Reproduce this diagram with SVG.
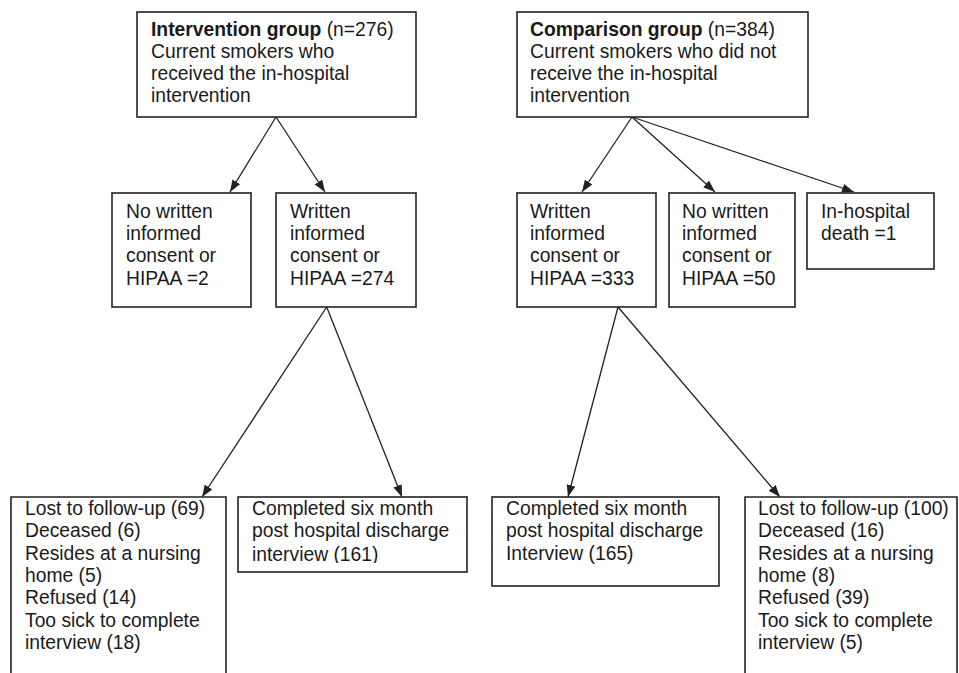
<svg xmlns="http://www.w3.org/2000/svg" width="959" height="673" viewBox="0 0 959 673">
<style>
.box{fill:#fff;stroke:#222;stroke-width:1.6}
.open{fill:none;stroke:#222;stroke-width:1.6}
text{font-family:"Liberation Sans",Arial,sans-serif;font-size:19.3px;fill:#1a1a1a}
.b{font-weight:bold}
.c{fill:none;stroke:#222;stroke-width:1.3;marker-end:url(#ah)}
</style>
<defs>
<marker id="ah" viewBox="0 0 12 9" refX="12" refY="4.5" markerWidth="12" markerHeight="9" markerUnits="userSpaceOnUse" orient="auto">
<path d="M0,0 L12,4.5 L0,9 Z" fill="#222"/>
</marker>
<clipPath id="clip161"><rect x="238" y="497" width="229" height="66"/></clipPath>
</defs>
<rect width="959" height="673" fill="#fff"/>
<g id="connectors">
<line class="c" x1="276" y1="117" x2="230" y2="192"/>
<line class="c" x1="276" y1="117" x2="325" y2="192"/>
<line class="c" x1="632" y1="117" x2="582" y2="192"/>
<line class="c" x1="632" y1="117" x2="715" y2="192"/>
<line class="c" x1="632" y1="117" x2="854" y2="192"/>
<line class="c" x1="326.7" y1="307" x2="202" y2="497"/>
<line class="c" x1="326.7" y1="307" x2="402" y2="497"/>
<line class="c" x1="618" y1="307" x2="568" y2="497"/>
<line class="c" x1="618" y1="307" x2="780" y2="497"/>
</g>
<g id="intervention">
<rect class="box" x="137" y="12" width="279" height="105"/>
<text x="151" y="36"><tspan class="b">Intervention group</tspan> (n=276)</text>
<text x="151" y="58">Current smokers who</text>
<text x="151" y="80">received the in-hospital</text>
<text x="151" y="102">intervention</text>
</g>
<g id="comparison">
<rect class="box" x="517" y="12" width="291" height="105"/>
<text x="530" y="36"><tspan class="b">Comparison group</tspan> (n=384)</text>
<text x="530" y="58">Current smokers who did not</text>
<text x="530" y="80">receive the in-hospital</text>
<text x="530" y="102">intervention</text>
</g>
<g id="int-no-consent">
<rect class="box" x="112" y="193" width="139" height="114"/>
<text x="126" y="218">No written</text>
<text x="126" y="240">informed</text>
<text x="126" y="262">consent or</text>
<text x="126" y="285">HIPAA =2</text>
</g>
<g id="int-consent">
<rect class="box" x="276" y="193" width="140" height="114"/>
<text x="290" y="218">Written</text>
<text x="290" y="240">informed</text>
<text x="290" y="262">consent or</text>
<text x="290" y="285">HIPAA =274</text>
</g>
<g id="comp-consent">
<rect class="box" x="517" y="193" width="139" height="114"/>
<text x="530" y="218">Written</text>
<text x="530" y="240">informed</text>
<text x="530" y="262">consent or</text>
<text x="530" y="285">HIPAA =333</text>
</g>
<g id="comp-no-consent">
<rect class="box" x="669" y="193" width="126" height="114"/>
<text x="682" y="218">No written</text>
<text x="682" y="240">informed</text>
<text x="682" y="262">consent or</text>
<text x="682" y="285">HIPAA =50</text>
</g>
<g id="comp-death">
<rect class="box" x="807" y="193" width="127" height="76"/>
<text x="821" y="218">In-hospital</text>
<text x="821" y="240">death =1</text>
</g>
<g id="int-lost">
<path class="open" d="M11,673 V497 H226 V673"/>
<text x="25" y="515">Lost to follow-up (69)</text>
<text x="25" y="537">Deceased (6)</text>
<text x="25" y="560">Resides at a nursing</text>
<text x="25" y="582">home (5)</text>
<text x="25" y="604">Refused (14)</text>
<text x="25" y="627">Too sick to complete</text>
<text x="25" y="649">interview (18)</text>
</g>
<g id="int-completed">
<rect class="box" x="238" y="497" width="229" height="75"/>
<text x="252" y="515">Completed six month</text>
<text x="252" y="537">post hospital discharge</text>
<text x="252" y="561" clip-path="url(#clip161)">interview (161)</text>
</g>
<g id="comp-completed">
<rect class="box" x="492" y="497" width="227" height="89"/>
<text x="506" y="515">Completed six month</text>
<text x="506" y="537">post hospital discharge</text>
<text x="506" y="560">Interview (165)</text>
</g>
<g id="comp-lost">
<path class="open" d="M745,673 V497 H957 V673"/>
<text x="758" y="515">Lost to follow-up (100)</text>
<text x="758" y="537">Deceased (16)</text>
<text x="758" y="560">Resides at a nursing</text>
<text x="758" y="582">home (8)</text>
<text x="758" y="604">Refused (39)</text>
<text x="758" y="627">Too sick to complete</text>
<text x="758" y="649">interview (5)</text>
</g>
</svg>
